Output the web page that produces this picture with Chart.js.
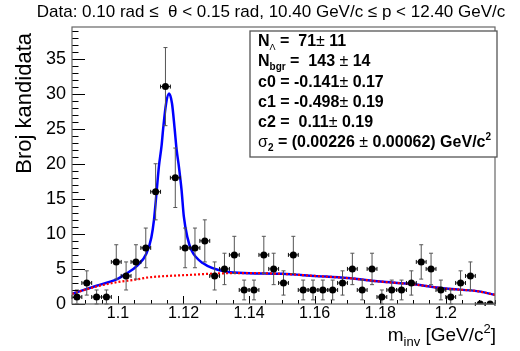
<!DOCTYPE html>
<html>
<head>
<meta charset="utf-8">
<script src="https://cdn.jsdelivr.net/npm/chart.js@4/dist/chart.umd.min.js"></script>
<style>
  html, body { margin: 0; padding: 0; background: #fff; }
</style>
</head>
<body>
<canvas id="massChart" width="520" height="351"></canvas>
<script>
// invariant mass histogram, 3 MeV bins between 1.086 and 1.215 GeV/c^2
const binCenters = [1.0875, 1.0905, 1.0935, 1.0965, 1.0995, 1.1025, 1.1055, 1.1085, 1.1115, 1.1145,
  1.1175, 1.1205, 1.1235, 1.1265, 1.1295, 1.1325, 1.1355, 1.1385, 1.1415, 1.1445,
  1.1475, 1.1505, 1.1535, 1.1565, 1.1595, 1.1625, 1.1655, 1.1685, 1.1715, 1.1745,
  1.1775, 1.1805, 1.1835, 1.1865, 1.1895, 1.1925, 1.1955, 1.1985, 1.2015, 1.2045,
  1.2075, 1.2105, 1.2135];
const counts = [1, 3, 1, 1, 6, 4, 6, 8, 16, 31,
  18, 8, 8, 9, 4, 5, 7, 2, 2, 7,
  5, 3, 7, 2, 2, 2, 2, 3, 5, 2,
  5, 1, 2, 2, 3, 6, 5, 2, 1, 3,
  4, 0, 0];
const countErrors = [1, 1.73, 1, 1, 2.45, 2, 2.45, 2.83, 4, 5.57,
  4.24, 2.83, 2.83, 3, 2, 2.24, 2.65, 1.41, 1.41, 2.65,
  2.24, 1.73, 2.65, 1.41, 1.41, 1.41, 1.41, 1.73, 2.24, 1.41,
  2.24, 1, 1.41, 1.41, 1.73, 2.45, 2.24, 1.41, 1, 1.73,
  2, 0, 0];
const binHalfWidth = 0.0015;

// full fit (signal + background)
const fitX = [1.086, 1.0935, 1.0996, 1.1021, 1.106, 1.1087, 1.1102, 1.111, 1.1118, 1.1125,
  1.1133, 1.1138, 1.1147, 1.1156, 1.1165, 1.1173, 1.1179, 1.1186, 1.1194, 1.1201,
  1.1212, 1.1224, 1.126, 1.1331, 1.14, 1.15, 1.16, 1.17, 1.18, 1.19, 1.2, 1.21, 1.215];
const fitY = [1.45, 2.6, 3.5, 4.2, 5.5, 7.2, 9.5, 12.0, 16.0, 19.6,
  22.5, 25.0, 28.6, 30.0, 28.6, 25.0, 22.0, 19.6, 16.3, 12.5,
  9.5, 7.7, 5.8, 4.6, 4.4, 4.3, 4.0, 3.7, 3.2, 2.8, 2.2, 1.8, 1.3];

// background only (red dotted)
const bgrX = [1.086, 1.0935, 1.0996, 1.1057, 1.1087, 1.1118, 1.1219, 1.13, 1.14, 1.15,
  1.16, 1.17, 1.18, 1.19, 1.2, 1.21, 1.215];
const bgrY = [1.45, 2.5, 3.1, 3.5, 3.75, 3.9, 4.15, 4.35, 4.4, 4.3,
  4.0, 3.7, 3.2, 2.8, 2.2, 1.8, 1.3];

const titleText = 'Data: 0.10 rad \u2264  \u03B8 < 0.15 rad, 10.40 GeV/c \u2264 p < 12.40 GeV/c';
const FONT = '"Liberation Sans", Arial, sans-serif';

const points = binCenters.map((c, i) => ({ x: c, y: counts[i] }));
const fitPoints = fitX.map((v, i) => ({ x: v, y: fitY[i] }));
const bgrPoints = bgrX.map((v, i) => ({ x: v, y: bgrY[i] }));

// draw a run of text pieces (sub/superscripts) one after another
function drawParts(ctx, parts, x, y, align) {
  ctx.textAlign = 'left';
  ctx.textBaseline = 'alphabetic';
  let w = 0;
  parts.forEach(p => { ctx.font = p.f; w += ctx.measureText(p.t).width; });
  let cx = x;
  if (align === 'right') cx = x - w;
  if (align === 'center') cx = x - w / 2;
  parts.forEach(p => {
    ctx.font = p.f;
    ctx.fillText(p.t, cx, y + (p.dy || 0));
    cx += ctx.measureText(p.t).width;
  });
}

// error bars go right under the markers
const errorBars = {
  id: 'errorBars',
  beforeDatasetDraw(chart, args) {
    if (args.index !== 0) return;
    const { ctx, scales: { x, y } } = chart;
    ctx.save();
    ctx.lineWidth = 1;
    binCenters.forEach((c, i) => {
      const px = x.getPixelForValue(c);
      const py = y.getPixelForValue(counts[i]);
      const xl = x.getPixelForValue(c - binHalfWidth);
      const xr = x.getPixelForValue(c + binHalfWidth);
      ctx.strokeStyle = '#111';
      ctx.beginPath();
      ctx.moveTo(xl, py); ctx.lineTo(xr, py);
      ctx.moveTo(xl, py - 2); ctx.lineTo(xl, py + 2);
      ctx.moveTo(xr, py - 2); ctx.lineTo(xr, py + 2);
      ctx.stroke();
      if (countErrors[i] > 0) {
        const yt = y.getPixelForValue(counts[i] + countErrors[i]);
        const yb = y.getPixelForValue(Math.max(0, counts[i] - countErrors[i]));
        ctx.strokeStyle = '#555';
        ctx.beginPath();
        ctx.moveTo(px, yt); ctx.lineTo(px, yb);
        ctx.moveTo(px - 2, yt); ctx.lineTo(px + 2, yt);
        ctx.moveTo(px - 2, yb); ctx.lineTo(px + 2, yb);
        ctx.stroke();
      }
    });
    ctx.restore();
  }
};

// ROOT look: frame, inward ticks, titles, stats box
const rootStyle = {
  id: 'rootStyle',
  afterDraw(chart) {
    const { ctx, chartArea: a, scales: { x, y } } = chart;
    ctx.save();

    // ticks
    ctx.strokeStyle = '#000';
    ctx.lineWidth = 1;
    ctx.beginPath();
    for (let k = Math.ceil(x.min / 0.005); k * 0.005 <= x.max; k++) {
      const px = Math.round(x.getPixelForValue(k * 0.005)) + 0.5;
      const len = k % 4 === 0 ? 8 : 4;
      ctx.moveTo(px, a.bottom); ctx.lineTo(px, a.bottom - len);
    }
    for (let k = 0; k <= y.max; k++) {
      const py = Math.round(y.getPixelForValue(k)) + 0.5;
      const len = k % 5 === 0 ? 13 : 6.5;
      ctx.moveTo(a.left, py); ctx.lineTo(a.left + len, py);
    }
    ctx.stroke();

    // frame
    ctx.strokeStyle = '#666';
    ctx.lineWidth = 1.2;
    ctx.strokeRect(a.left, a.top, a.right - a.left, a.bottom - a.top);

    ctx.fillStyle = '#000';
    // main title
    drawParts(ctx, [{ t: titleText, f: '17px ' + FONT }], 271, 17, 'center');

    // x axis title
    drawParts(ctx, [
      { t: 'm', f: '19px ' + FONT },
      { t: 'inv', f: '13px ' + FONT, dy: 5 },
      { t: ' [GeV/c', f: '19px ' + FONT },
      { t: '2', f: '13px ' + FONT, dy: -8 },
      { t: ']', f: '19px ' + FONT }
    ], 496, 341, 'right');

    // y axis title
    ctx.save();
    ctx.translate(31, 33);
    ctx.rotate(-Math.PI / 2);
    ctx.font = '22px ' + FONT;
    ctx.textAlign = 'right';
    ctx.textBaseline = 'alphabetic';
    ctx.fillText('Broj kandidata', 0, 0);
    ctx.restore();

    // stats box
    ctx.fillStyle = '#fff';
    ctx.fillRect(250, 31, 247, 126);
    ctx.strokeStyle = '#555';
    ctx.lineWidth = 1.3;
    ctx.strokeRect(250, 31, 247, 126);
    ctx.fillStyle = '#000';
    const B = 'bold 16px ' + FONT, N = '16px ' + FONT, S = 'bold 10px ' + FONT;
    const lines = [
      [{ t: 'N', f: B }, { t: '\u039B', f: '9px ' + FONT, dy: 4 }, { t: ' =  71', f: B }, { t: '\u00B1', f: N }, { t: ' 11', f: B }],
      [{ t: 'N', f: B }, { t: 'bgr', f: S, dy: 4 }, { t: ' =  143 ', f: B }, { t: '\u00B1', f: N }, { t: ' 14', f: B }],
      [{ t: 'c0 = -0.141', f: B }, { t: '\u00B1', f: N }, { t: ' 0.17', f: B }],
      [{ t: 'c1 = -0.498', f: B }, { t: '\u00B1', f: N }, { t: ' 0.19', f: B }],
      [{ t: 'c2 =  0.11', f: B }, { t: '\u00B1', f: N }, { t: ' 0.19', f: B }],
      [{ t: '\u03C3', f: N }, { t: '2', f: S, dy: 4 }, { t: ' = (0.00226 ', f: B }, { t: '\u00B1', f: N },
        { t: ' 0.00062) GeV/c', f: B }, { t: '2', f: S, dy: -7 }]
    ];
    const baselines = [46, 66, 87, 107, 127, 147];
    lines.forEach((parts, i) => drawParts(ctx, parts, 258, baselines[i], 'left'));

    ctx.restore();
  }
};

const chart = new Chart(document.getElementById('massChart').getContext('2d'), {
  type: 'scatter',
  data: {
    datasets: [
      {
        label: 'data', data: points, showLine: false, order: 0,
        pointRadius: 3.5, pointBackgroundColor: '#000', pointBorderColor: '#000', pointBorderWidth: 0
      },
      {
        label: 'background', data: bgrPoints, showLine: true, order: 1, pointRadius: 0,
        borderColor: '#ff0000', borderWidth: 2.2, borderDash: [2, 2], cubicInterpolationMode: 'monotone'
      },
      {
        label: 'fit', data: fitPoints, showLine: true, order: 2, pointRadius: 0,
        borderColor: '#0000ff', borderWidth: 2.5, cubicInterpolationMode: 'monotone'
      }
    ]
  },
  options: {
    responsive: false,
    animation: false,
    layout: { padding: { left: 0, right: 25, top: 27, bottom: 0 } },
    plugins: { legend: { display: false }, tooltip: { enabled: false } },
    scales: {
      x: {
        type: 'linear', min: 1.086, max: 1.215,
        afterFit(s) { s.height = 47; },
        grid: { display: false, drawTicks: false },
        border: { display: false },
        ticks: {
          stepSize: 0.02, includeBounds: false, padding: 0, color: '#000',
          font: { family: FONT, size: 16 },
          callback: v => v.toFixed(2).replace(/0$/, '')
        }
      },
      y: {
        type: 'linear', min: 0, max: 39.5,
        afterFit(s) { s.width = 72; },
        grid: { display: false, drawTicks: false },
        border: { display: false },
        ticks: {
          stepSize: 5, includeBounds: false, padding: 6, color: '#000',
          font: { family: FONT, size: 18 }
        }
      }
    }
  },
  plugins: [errorBars, rootStyle]
});
</script>
</body>
</html>
